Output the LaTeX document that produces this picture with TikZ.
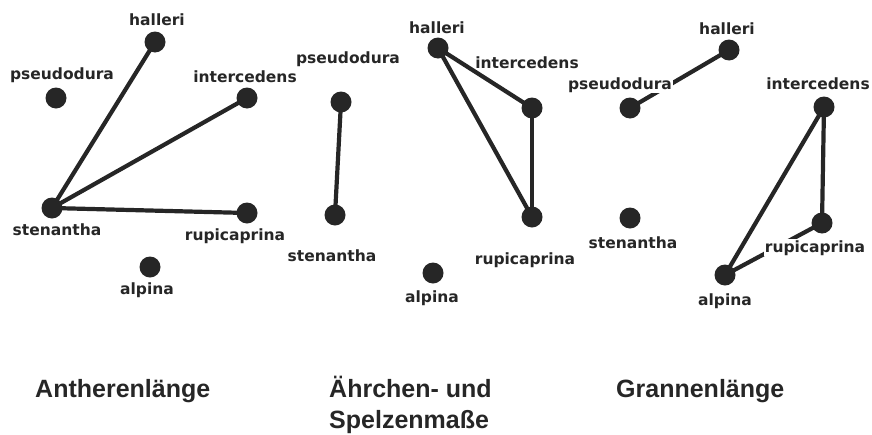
\documentclass[tikz,border=0pt]{standalone}
\usepackage{fontspec}
\setmainfont{Liberation Sans}
\newfontfamily\lblfont{DejaVu Sans}
\begin{document}
\begin{tikzpicture}[x=1pt,y=-1pt,
  dot/.style={circle,fill=black!85,minimum size=21pt,inner sep=0pt},
  lbl/.style={font=\lblfont\bfseries\fontsize{15.5}{18}\selectfont,text=black!85,anchor=base,inner sep=1pt},
  wlbl/.style={lbl,fill=white},
  edge/.style={line width=4.2pt,draw=black!85},
  title/.style={font=\bfseries\fontsize{25}{31}\selectfont,text=black!85,anchor=base west,inner sep=0pt,align=left}]
\useasboundingbox (0,0) rectangle (872,434);
% Panel 1
\node[dot] (a1) at (155,42) {};
\node[dot] (b1) at (56,98) {};
\node[dot] (c1) at (247,98) {};
\node[dot] (d1) at (52,208) {};
\node[dot] (e1) at (247,213) {};
\node[dot] (f1) at (150,267) {};
\draw[edge] (d1.center) -- (a1.center);
\draw[edge] (d1.center) -- (c1.center);
\draw[edge] (d1.center) -- (e1.center);
\node[lbl] (la1) at (157,25) {halleri};
\node[lbl] (lb1) at (62,79) {pseudodura};
\node[lbl] (lc1) at (245,82) {intercedens};
\node[lbl] (ld1) at (57,235) {stenantha};
\node[lbl] (le1) at (235,240) {rupicaprina};
\node[lbl] (lf1) at (147,294) {alpina};
% Panel 2
\node[dot] (a2) at (438,48) {};
\node[dot] (b2) at (341,102) {};
\node[dot] (c2) at (532,108) {};
\node[dot] (d2) at (335,215) {};
\node[dot] (e2) at (532,217) {};
\node[dot] (f2) at (433,273) {};
\draw[edge] (b2.center) -- (d2.center);
\draw[edge] (a2.center) -- (c2.center);
\draw[edge] (a2.center) -- (e2.center);
\draw[edge] (c2.center) -- (e2.center);
\node[lbl] (la2) at (437,33) {halleri};
\node[lbl] (lb2) at (348,63) {pseudodura};
\node[lbl] (lc2) at (527,68) {intercedens};
\node[lbl] (ld2) at (332,261) {stenantha};
\node[lbl] (le2) at (525,264) {rupicaprina};
\node[lbl] (lf2) at (432,302) {alpina};
% Panel 3
\node[dot] (a3) at (729,50) {};
\node[dot] (b3) at (630,108) {};
\node[dot] (c3) at (824,107) {};
\node[dot] (d3) at (630,218) {};
\node[dot] (e3) at (822,223) {};
\node[dot] (f3) at (725,275) {};
\draw[edge] (a3.center) -- (b3.center);
\draw[edge] (c3.center) -- (f3.center);
\draw[edge] (c3.center) -- (e3.center);
\draw[edge] (e3.center) -- (f3.center);
\node[lbl] (la3) at (727,34) {halleri};
\node[wlbl] (lb3) at (620,89) {pseudodura};
\node[lbl] (lc3) at (818,89) {intercedens};
\node[lbl] (ld3) at (633,248) {stenantha};
\node[wlbl] (le3) at (815,252) {rupicaprina};
\node[lbl] (lf3) at (725,305) {alpina};
% Titles
\node[title] (t1) at (35,397) {Antherenlänge};
\node[title] (t2) at (329,428) {Ährchen- und\\Spelzenmaße};
\node[title] (t3) at (616,397) {Grannenlänge};
\end{tikzpicture}
\end{document}
